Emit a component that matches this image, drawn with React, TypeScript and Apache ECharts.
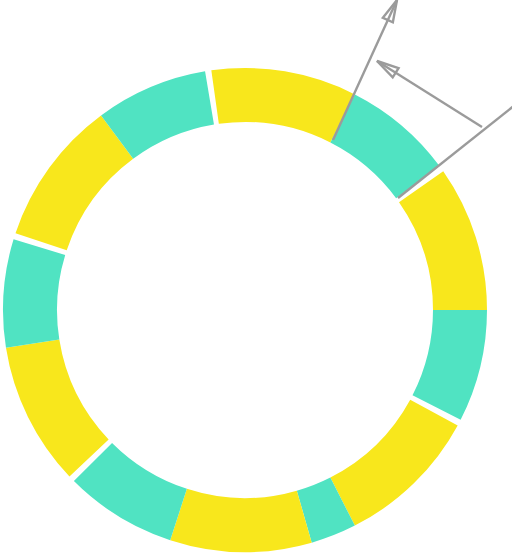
import React, { useEffect, useRef } from "react";
import * as echarts from "echarts";

// Ring segments, clockwise from the top gap (values in degrees of arc)
const segmentNames = [
  "Y1", "T1", "gap1", "Y2", "T2", "gap2", "Y3", "T3", "Y4", "T4", "gap3",
  "Y5", "T5", "gap4", "Y6", "T6", "gap5",
];
const segmentValues = [
  35, 26.5, 1.5, 35, 27, 1.5, 34.5, 11, 34, 27, 1.5, 34.5, 26, 1.5, 35, 27, 1.5,
];
const segmentKinds = [
  "y", "t", "g", "y", "t", "g", "y", "t", "y", "t", "g", "y", "t", "g", "y", "t", "g",
];

// Annotation arrows: [x1, y1, x2, y2, hasHead]
const arrows: [number, number, number, number, boolean][] = [
  [333, 140, 397, 0, true],
  [482, 127, 377, 61, true],
  [398, 198, 515, 105, false],
];

const YELLOW = "#F8E71C";
const TEAL = "#50E3C2";
const GRAY = "#9B9B9B";

export default function App() {
  const ref = useRef<HTMLDivElement>(null);
  useEffect(() => {
    if (!ref.current) return;
    const chart = echarts.init(ref.current, undefined, { renderer: "svg" });
    const colorOf = (k: string) =>
      k === "y" ? YELLOW : k === "t" ? TEAL : "rgba(0,0,0,0)";
    const graphics: any[] = [];
    arrows.forEach(([x1, y1, x2, y2, head]) => {
      graphics.push({
        type: "line",
        shape: { x1, y1, x2, y2 },
        style: { stroke: GRAY, lineWidth: 2.4 },
        z: 100,
      });
      if (head) {
        const len = Math.hypot(x2 - x1, y2 - y1);
        const dx = (x2 - x1) / len;
        const dy = (y2 - y1) / len;
        const nx = -dy;
        const ny = dx;
        const L = 22;
        const W = 5.5;
        const bx = x2 - L * dx;
        const by = y2 - L * dy;
        graphics.push({
          type: "polygon",
          shape: {
            points: [
              [x2, y2],
              [bx + W * nx, by + W * ny],
              [bx - W * nx, by - W * ny],
            ],
          },
          style: { stroke: GRAY, lineWidth: 2.4, fill: "none", lineJoin: "miter" },
          z: 100,
        });
      }
    });
    chart.setOption({
      animation: false,
      series: [
        {
          type: "pie",
          center: [245, 310],
          radius: [188, 242],
          startAngle: 98,
          clockwise: true,
          silent: true,
          label: { show: false },
          labelLine: { show: false },
          data: segmentNames.map((n, i) => ({
            name: n,
            value: segmentValues[i],
            itemStyle: { color: colorOf(segmentKinds[i]) },
          })),
        },
      ],
      graphic: graphics,
    });
    return () => chart.dispose();
  }, []);
  return (
    <div
      ref={ref}
      style={{ position: "fixed", left: 0, top: 0, width: 512, height: 553 }}
    />
  );
}
